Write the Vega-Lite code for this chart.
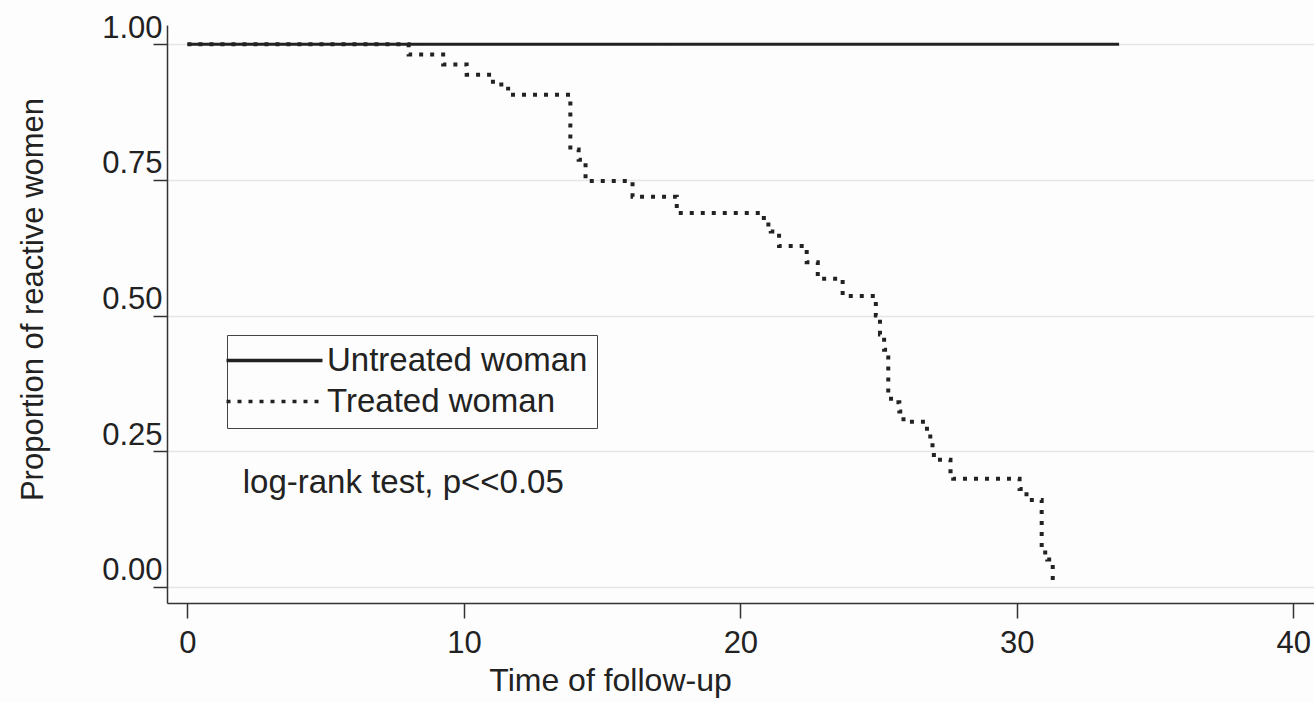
{
  "$schema": "https://vega.github.io/schema/vega-lite/v6.json",
  "width": 1147,
  "height": 578,
  "autosize": {"type": "none"},
  "padding": {"left": 167, "top": 25, "right": 0, "bottom": 99},
  "background": "#fdfdfd",
  "config": {
    "view": {"stroke": null},
    "font": "Liberation Sans"
  },
  "datasets": {
    "curves": [
      {"group": "Untreated woman", "time": 0, "prob": 1.0},
      {"group": "Untreated woman", "time": 33.7, "prob": 1.0},
      {"group": "Treated woman", "time": 0, "prob": 1.0},
      {"group": "Treated woman", "time": 8.0, "prob": 0.981},
      {"group": "Treated woman", "time": 9.25, "prob": 0.963},
      {"group": "Treated woman", "time": 10.1, "prob": 0.944},
      {"group": "Treated woman", "time": 11.05, "prob": 0.926},
      {"group": "Treated woman", "time": 11.6, "prob": 0.907},
      {"group": "Treated woman", "time": 13.85, "prob": 0.806},
      {"group": "Treated woman", "time": 14.15, "prob": 0.787},
      {"group": "Treated woman", "time": 14.4, "prob": 0.748},
      {"group": "Treated woman", "time": 16.1, "prob": 0.719},
      {"group": "Treated woman", "time": 17.7, "prob": 0.689},
      {"group": "Treated woman", "time": 20.85, "prob": 0.668},
      {"group": "Treated woman", "time": 21.1, "prob": 0.655},
      {"group": "Treated woman", "time": 21.4, "prob": 0.628},
      {"group": "Treated woman", "time": 22.4, "prob": 0.598},
      {"group": "Treated woman", "time": 22.8, "prob": 0.568},
      {"group": "Treated woman", "time": 23.7, "prob": 0.536},
      {"group": "Treated woman", "time": 24.9, "prob": 0.5},
      {"group": "Treated woman", "time": 25.05, "prob": 0.465},
      {"group": "Treated woman", "time": 25.2, "prob": 0.437},
      {"group": "Treated woman", "time": 25.35, "prob": 0.358},
      {"group": "Treated woman", "time": 25.45, "prob": 0.34},
      {"group": "Treated woman", "time": 25.75, "prob": 0.323},
      {"group": "Treated woman", "time": 25.9, "prob": 0.304},
      {"group": "Treated woman", "time": 26.75, "prob": 0.277},
      {"group": "Treated woman", "time": 26.95, "prob": 0.251},
      {"group": "Treated woman", "time": 27.0, "prob": 0.234},
      {"group": "Treated woman", "time": 27.6, "prob": 0.213},
      {"group": "Treated woman", "time": 27.7, "prob": 0.199},
      {"group": "Treated woman", "time": 30.1, "prob": 0.18},
      {"group": "Treated woman", "time": 30.35, "prob": 0.16},
      {"group": "Treated woman", "time": 30.9, "prob": 0.063},
      {"group": "Treated woman", "time": 31.1, "prob": 0.05},
      {"group": "Treated woman", "time": 31.3, "prob": 0.0}
    ],
    "note": [
      {"time": 2.0, "prob": 0.173, "label": "log-rank test, p<<0.05"}
    ]
  },
  "encoding": {
    "x": {
      "field": "time",
      "type": "quantitative",
      "scale": {"domain": [-0.74, 40.75], "nice": false, "zero": false},
      "axis": {
        "values": [0, 10, 20, 30, 40],
        "format": "d",
        "title": "Time of follow-up",
        "grid": false,
        "tickSize": 15,
        "tickWidth": 1.5,
        "tickColor": "#333",
        "domainColor": "#333",
        "domainWidth": 1.5,
        "labelFontSize": 31,
        "labelColor": "#222",
        "labelPadding": 10,
        "labelFont": "Liberation Sans",
        "titleFont": "Liberation Sans",
        "titleFontSize": 32,
        "titleFontWeight": "normal",
        "titleColor": "#222",
        "titlePadding": 7,
        "titleX": 443
      }
    },
    "y": {
      "field": "prob",
      "type": "quantitative",
      "scale": {"domain": [-0.030, 1.0356], "nice": false, "zero": false},
      "axis": {
        "values": [0, 0.25, 0.5, 0.75, 1],
        "format": ".2f",
        "title": "Proportion of reactive women",
        "grid": true,
        "gridColor": "#e6e6e6",
        "gridWidth": 1.5,
        "tickSize": 14,
        "tickWidth": 1.5,
        "tickColor": "#333",
        "domainColor": "#333",
        "domainWidth": 1.5,
        "labelFontSize": 31,
        "labelColor": "#222",
        "labelPadding": -9,
        "labelBaseline": "alphabetic",
        "labelOffset": -7,
        "labelFont": "Liberation Sans",
        "titleFont": "Liberation Sans",
        "titleFontSize": 31,
        "titleFontWeight": "normal",
        "titleColor": "#222",
        "titlePadding": 52,
        "titleY": 274
      }
    }
  },
  "layer": [
    {
      "data": {"name": "curves"},
      "transform": [{"filter": "datum.group === 'Untreated woman'"}],
      "mark": {"type": "line", "interpolate": "step-after", "color": "#222", "strokeWidth": 3},
      "encoding": {
        "strokeDash": {
          "field": "group",
          "type": "nominal",
          "scale": {"domain": ["Untreated woman", "Treated woman"], "range": [[1, 0], [4, 7]]},
          "legend": {
            "orient": "none",
            "legendX": 60,
            "legendY": 310,
            "title": null,
            "symbolType": "M-4,0H4",
            "symbolSize": 576,
            "symbolStrokeWidth": 3.5,
            "symbolStrokeColor": "#222",
            "symbolOffset": 22,
            "labelOffset": 36,
            "labelFontSize": 33,
            "labelFont": "Liberation Sans",
            "labelColor": "#222",
            "labelLimit": 0,
            "strokeColor": "#444",
            "padding": 9,
            "rowPadding": 7
          }
        }
      }
    },
    {
      "data": {"name": "curves"},
      "transform": [{"filter": "datum.group === 'Treated woman'"}],
      "mark": {"type": "line", "interpolate": "step-after", "color": "#222", "strokeWidth": 4, "strokeCap": "butt"},
      "encoding": {
        "strokeDash": {"field": "group", "type": "nominal"}
      }
    },
    {
      "data": {"name": "note"},
      "mark": {"type": "text", "align": "left", "baseline": "alphabetic", "fontSize": 33, "font": "Liberation Sans", "color": "#222"},
      "encoding": {
        "text": {"field": "label", "type": "nominal"}
      }
    }
  ]
}
